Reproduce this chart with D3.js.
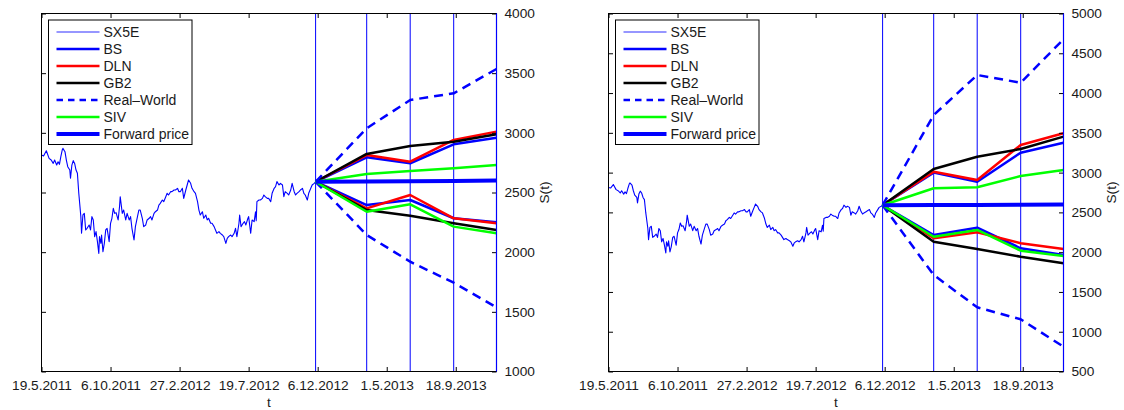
<!DOCTYPE html>
<html>
<head>
<meta charset="utf-8">
<script src="https://cdn.jsdelivr.net/npm/d3@7"></script>
<style>
  body { margin: 0; background: #fff; }
  text { font-family: "Liberation Sans", Arial, Helvetica, sans-serif; fill: #1a1a1a; }
</style>
</head>
<body>
<svg id="chart" width="1124" height="410"></svg>
<script>
// Historical SX5E closes, by trading-day index from 19.5.2011
const sx5eDays = [0,3,7,11,14,17,19,22,24,26,28,30,31,34,36,38,41,42,44,46,48,50,52,54,57,58,60,62,64,66,69,71,73,75,77,79,81,83,84,86,87,89,91,93,95,98,100,102,104,106,108,111,113,114,117,119,122,124,127,129,131,134,136,139,141,143,146,148,151,153,156,158,160,163,165,168,170,172,175,177,180,182,184,187,189,192,194,197,199,201,204,206,209,211,213,216,218,221,223,226,228,230,233,235,238,240,242,245,247,250,252,254,257,259,262,264,267,269,271,274,276,279,281,283,286,287,289,292,294,296,299,300,303,305,308,310,311,312,315,317,320,322,324,327,329,332,334,337,339,341,344,346,349,351,353,356,358,361,363,366,368,370,373,375,378,380,382,385,387,390,392,395,397];
const sx5eLevels = [2814,2806,2850,2786,2772,2744,2772,2730,2758,2736,2800,2856,2870,2842,2772,2716,2688,2619,2730,2767,2744,2688,2661,2493,2298,2158,2312,2325,2186,2200,2228,2186,2298,2270,2130,2172,2088,1990,2130,2074,2144,2004,2074,2186,2200,2088,2242,2284,2367,2325,2331,2270,2381,2465,2325,2353,2270,2325,2270,2298,2200,2102,2214,2298,2353,2353,2284,2214,2228,2270,2284,2298,2270,2325,2339,2353,2395,2409,2437,2423,2465,2493,2479,2507,2507,2521,2521,2535,2507,2507,2535,2451,2521,2563,2605,2577,2535,2507,2493,2423,2353,2311,2339,2284,2311,2270,2284,2242,2242,2214,2186,2158,2172,2158,2144,2130,2074,2116,2130,2144,2130,2158,2200,2130,2242,2311,2214,2242,2256,2228,2284,2298,2158,2270,2256,2339,2264,2423,2437,2437,2451,2479,2465,2451,2451,2423,2493,2535,2549,2591,2563,2577,2563,2465,2507,2493,2479,2521,2577,2507,2479,2493,2507,2521,2535,2493,2479,2437,2493,2535,2563,2577,2590];

// Valuation date and the four future horizons (trading-day index)
const horizonDays = [397, 471, 534, 597, 659];

const xTickDays = [0, 100, 200, 300, 400, 500, 600];
const xTickLabels = ["19.5.2011", "6.10.2011", "27.2.2012", "19.7.2012", "6.12.2012", "1.5.2013", "18.9.2013"];

// Left panel: quantile paths per model
const yTicksA = [1000, 1500, 2000, 2500, 3000, 3500, 4000];
const bsUpperA   = [2590, 2795, 2745, 2904, 2959];
const bsLowerA   = [2590, 2395, 2437, 2284, 2250];
const dlnUpperA  = [2590, 2814, 2758, 2940, 3010];
const dlnLowerA  = [2590, 2367, 2479, 2284, 2242];
const gb2UpperA  = [2590, 2823, 2890, 2926, 2988];
const gb2LowerA  = [2590, 2353, 2306, 2242, 2186];
const rwUpperA   = [2590, 3038, 3275, 3331, 3535];
const rwLowerA   = [2590, 2144, 1920, 1744, 1538];
const sivUpperA  = [2590, 2655, 2680, 2703, 2730];
const sivLowerA  = [2590, 2339, 2401, 2214, 2158];
const forwardA   = [2590, 2592, 2594, 2597, 2600];

// Right panel: quantile paths per model
const yTicksB = [500, 1000, 1500, 2000, 2500, 3000, 3500, 4000, 4500, 5000];
const bsUpperB   = [2590, 3000, 2886, 3250, 3376];
const bsLowerB   = [2590, 2216, 2308, 2049, 1964];
const dlnUpperB  = [2590, 3011, 2907, 3347, 3494];
const dlnLowerB  = [2590, 2174, 2250, 2112, 2040];
const gb2UpperB  = [2590, 3046, 3200, 3297, 3452];
const gb2LowerB  = [2590, 2132, 2040, 1943, 1860];
const rwUpperB   = [2590, 3724, 4227, 4130, 4676];
const rwLowerB   = [2590, 1713, 1307, 1156, 812];
const sivUpperB  = [2590, 2803, 2815, 2957, 3033];
const sivLowerB  = [2590, 2194, 2279, 2018, 1952];
const forwardB   = [2590, 2592, 2594, 2597, 2600];

const legendNames = ["SX5E", "BS", "DLN", "GB2", "Real\u2013World", "SIV", "Forward price"];

const BLUE = "#0000ff", RED = "#ff0000", GREEN = "#00ff00", BLACK = "#000000";
const styles = {
  sx5e: { color: BLUE, width: 1.1, dash: null },
  bs:   { color: BLUE, width: 2.5, dash: null },
  dln:  { color: RED, width: 2.5, dash: null },
  gb2:  { color: BLACK, width: 2.5, dash: null },
  rw:   { color: BLUE, width: 2.5, dash: "9,6" },
  siv:  { color: GREEN, width: 2.5, dash: null },
  fwd:  { color: BLUE, width: 4, dash: null }
};
const legendStyles = [styles.sx5e, styles.bs, styles.dln, styles.gb2, styles.rw, styles.siv, styles.fwd];

const svg = d3.select("#chart");

function drawPanel(left, right, yTicks, paths) {
  const top = 13.5, bottom = 371.5;
  const x = d3.scaleLinear().domain([0, 659]).range([left, right]);
  const y = d3.scaleLinear().domain([yTicks[0], yTicks[yTicks.length - 1]]).range([bottom, top]);
  const g = svg.append("g");

  // historical index
  const histLine = d3.line().x(d => x(d[0])).y(d => y(d[1]));
  g.append("path")
    .datum(sx5eDays.map((d, i) => [d, sx5eLevels[i]]))
    .attr("d", histLine)
    .attr("fill", "none")
    .attr("stroke", styles.sx5e.color)
    .attr("stroke-width", styles.sx5e.width)
    .attr("stroke-linejoin", "round");

  // horizon markers
  g.selectAll("line.horizon").data(horizonDays).join("line")
    .attr("class", "horizon")
    .attr("x1", d => x(d)).attr("x2", d => x(d))
    .attr("y1", top).attr("y2", bottom)
    .attr("stroke", BLUE).attr("stroke-width", 1);

  // forecast paths
  const fLine = d3.line().x((d, i) => x(horizonDays[i])).y(d => y(d));
  paths.forEach(p => {
    g.append("path")
      .datum(p.values)
      .attr("d", fLine)
      .attr("fill", "none")
      .attr("stroke", p.style.color)
      .attr("stroke-width", p.style.width)
      .attr("stroke-dasharray", p.style.dash)
      .attr("stroke-linejoin", "round");
  });

  // axes box with inward ticks
  const axes = svg.append("g");
  axes.append("rect")
    .attr("x", left).attr("y", top)
    .attr("width", right - left).attr("height", bottom - top)
    .attr("fill", "none").attr("stroke", BLACK).attr("stroke-width", 1);

  const bottomAxis = d3.axisBottom(x).tickValues(xTickDays)
    .tickFormat((d, i) => xTickLabels[i]).tickSizeInner(-4.5).tickSizeOuter(0).tickPadding(9);
  const ab = axes.append("g").attr("transform", `translate(0,${bottom})`).call(bottomAxis);
  const topAxis = d3.axisTop(x).tickValues(xTickDays).tickFormat("").tickSizeInner(-4.5).tickSizeOuter(0);
  const at = axes.append("g").attr("transform", `translate(0,${top})`).call(topAxis);
  const rightAxis = d3.axisRight(y).tickValues(yTicks).tickFormat(d3.format("d"))
    .tickSizeInner(-4.5).tickSizeOuter(0).tickPadding(8);
  const ar = axes.append("g").attr("transform", `translate(${right},0)`).call(rightAxis);
  const leftAxis = d3.axisLeft(y).tickValues(yTicks).tickFormat("").tickSizeInner(-4.5).tickSizeOuter(0);
  const al = axes.append("g").attr("transform", `translate(${left},0)`).call(leftAxis);
  [ab, at, ar, al].forEach(a => {
    a.select(".domain").remove();
    a.selectAll(".tick line").attr("stroke", BLACK);
    a.selectAll(".tick text").attr("font-size", "13.7px").attr("fill", "#1a1a1a")
      .attr("font-family", "Liberation Sans, Arial, sans-serif");
  });

  // final horizon drawn over the right frame
  axes.append("line")
    .attr("x1", x(horizonDays[4])).attr("x2", x(horizonDays[4]))
    .attr("y1", top).attr("y2", bottom)
    .attr("stroke", BLUE).attr("stroke-width", 1.2);

  // axis titles
  svg.append("text")
    .attr("x", (left + right) / 2).attr("y", 406.5)
    .attr("text-anchor", "middle").attr("font-size", "13.7px").text("t");
  svg.append("text")
    .attr("transform", `translate(${right + 52},${(top + bottom) / 2}) rotate(-90)`)
    .attr("text-anchor", "middle").attr("font-size", "13.7px").text("S(t)");

  // legend
  const lx = left + 7, ly = 20, lw = 143.5, lh = 124.5;
  const lg = svg.append("g");
  lg.append("rect").attr("x", lx).attr("y", ly).attr("width", lw).attr("height", lh)
    .attr("fill", "#fff").attr("stroke", BLACK).attr("stroke-width", 1);
  legendNames.forEach((name, i) => {
    const yy = 32 + i * 17;
    const st = legendStyles[i];
    lg.append("line")
      .attr("x1", lx + 8).attr("x2", lx + 51)
      .attr("y1", yy).attr("y2", yy)
      .attr("stroke", st.color)
      .attr("stroke-opacity", i === 0 ? 0.55 : 1)
      .attr("stroke-width", i === 0 ? 1.5 : st.width)
      .attr("stroke-dasharray", st.dash ? "6.5,5" : null);
    lg.append("text")
      .attr("x", lx + 55).attr("y", yy + 5)
      .attr("font-size", "14px").text(name);
  });
}

drawPanel(41.5, 496.5, yTicksA, [
  { values: bsUpperA, style: styles.bs }, { values: bsLowerA, style: styles.bs },
  { values: dlnUpperA, style: styles.dln }, { values: dlnLowerA, style: styles.dln },
  { values: gb2UpperA, style: styles.gb2 }, { values: gb2LowerA, style: styles.gb2 },
  { values: rwUpperA, style: styles.rw }, { values: rwLowerA, style: styles.rw },
  { values: sivUpperA, style: styles.siv }, { values: sivLowerA, style: styles.siv },
  { values: forwardA, style: styles.fwd }
]);

drawPanel(608.5, 1063.5, yTicksB, [
  { values: bsUpperB, style: styles.bs }, { values: bsLowerB, style: styles.bs },
  { values: dlnUpperB, style: styles.dln }, { values: dlnLowerB, style: styles.dln },
  { values: gb2UpperB, style: styles.gb2 }, { values: gb2LowerB, style: styles.gb2 },
  { values: rwUpperB, style: styles.rw }, { values: rwLowerB, style: styles.rw },
  { values: sivUpperB, style: styles.siv }, { values: sivLowerB, style: styles.siv },
  { values: forwardB, style: styles.fwd }
]);
</script>
</body>
</html>
